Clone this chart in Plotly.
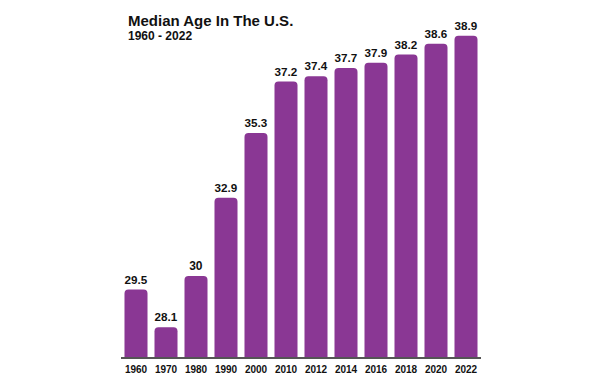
import plotly.graph_objects as go

years = ["1960", "1970", "1980", "1990", "2000", "2010", "2012", "2014", "2016", "2018", "2020", "2022"]
median_age = [29.5, 28.1, 30, 32.9, 35.3, 37.2, 37.4, 37.7, 37.9, 38.2, 38.6, 38.9]
title_text = "Median Age In The U.S."
subtitle_text = "1960 - 2022"

FONT = "Liberation Sans, Arial, Helvetica, sans-serif"
PURPLE = "#8A3794"

fig = go.Figure(go.Bar(
    x=years,
    y=median_age,
    marker=dict(color=PURPLE, line=dict(width=0)),
    text=[f"<b>{v:g}</b>" for v in median_age],
    textposition="outside",
    textfont=dict(family=FONT, size=12, color="#111111"),
    cliponaxis=False,
))

fig.update_layout(
    width=600, height=384,
    margin=dict(l=113, r=127, t=12, b=35),
    paper_bgcolor="white", plot_bgcolor="white",
    bargap=0.233,
    barcornerradius=4,
    showlegend=False,
    font=dict(family=FONT, color="#111111"),
    xaxis=dict(
        type="category",
        showline=True, linecolor="#555555", linewidth=1.5,
        showgrid=False, ticks="", ticklabelstandoff=2,
        tickfont=dict(family=FONT, size=10, color="#111111", weight="bold"),
    ),
    yaxis=dict(
        range=[27, 27 + 337 / 27],
        visible=False, showgrid=False, zeroline=False,
    ),
    annotations=[
        dict(text=f"<b>{title_text}</b>", xref="paper", yref="paper",
             x=(126 - 121) / 360, y=(357 - 20) / 337, xanchor="left", yanchor="middle",
             showarrow=False, font=dict(family=FONT, size=15, color="#111111")),
        dict(text=f"<b>{subtitle_text}</b>", xref="paper", yref="paper",
             x=(126 - 121) / 360, y=(357 - 36) / 337, xanchor="left", yanchor="middle",
             showarrow=False, font=dict(family=FONT, size=12, color="#111111")),
    ],
)

fig.write_html("out.html")
